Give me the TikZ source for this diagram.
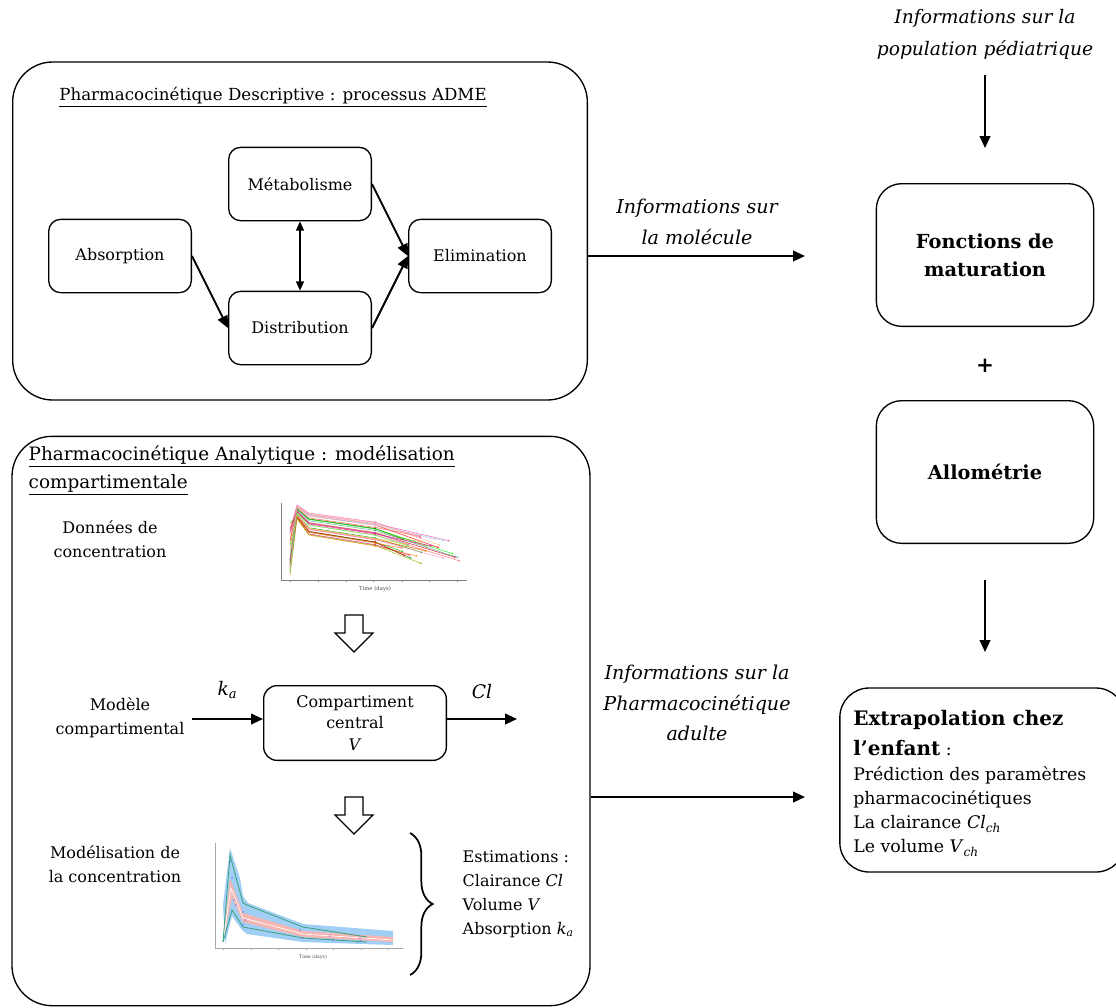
\documentclass[tikz,border=0pt]{standalone}
\usepackage{fontspec}
\setmainfont{DejaVu Serif}
\usetikzlibrary{positioning,arrows.meta,decorations.pathreplacing}
\definecolor{bandblue}{RGB}{160,206,245}
\definecolor{bandpink}{RGB}{245,182,178}
\definecolor{medgreen}{RGB}{60,160,120}
\newcommand{\bigbold}{\bfseries\fontsize{15}{18}\selectfont}
\newcommand{\mv}[2]{\textit{#1}\textsubscript{\textit{#2}}}
\tikzset{block/.style={draw, line width=1pt, rounded corners=9pt, align=center, minimum width=107pt, minimum height=55pt, font=\fontsize{12}{16}\selectfont},
bigbox/.style={draw, line width=1pt, rounded corners=30pt},
sidebox/.style={draw, line width=1pt, rounded corners=19pt, align=center, minimum width=163pt, minimum height=107pt, font=\bfseries\fontsize{14.5}{21}\selectfont},
line/.style={-{Triangle[length=9pt,width=8pt]}, line width=1.5pt},
dline/.style={{Triangle[length=7pt,width=6pt]}-{Triangle[length=7pt,width=6pt]}, line width=1.2pt},
txt/.style={align=center, font=\fontsize{12}{18}\selectfont},
info/.style={align=center, font=\itshape\fontsize{14.3}{23}\selectfont},
downarrow/.pic={\draw[line width=.9pt, fill=white] (-9,0) -- (9,0) -- (9,18) -- (19,18) -- (0,37) -- (-19,18) -- (-9,18) -- cycle;}
}

\begin{document}
\begin{tikzpicture}[x=0.75pt, y=-0.75pt, every node/.style={align=center}]
    \useasboundingbox (0,0) rectangle (1116,1007);
    % Descriptive part
    \node [bigbox, minimum width=431pt, minimum height=253.5pt] (descbox) at (300,231) {};
    \node [txt, font=\fontsize{12.5}{18}\selectfont] (desctitle) at (273,97) {\underline{Pharmacocinétique Descriptive : processus ADME}};
    \node [block] (absorption) at (120,256) {Absorption};
    \node [block] (metabolisme) at (300,184) {Métabolisme};
    \node [block] (distribution) at (300,328) {Distribution};
    \node [block] (elimination) at (480,256) {Elimination};
    % Arrows
    \draw [line] (absorption.east) -- (distribution.west);
    \draw [line] (distribution.east) -- (elimination.west);
    \draw [line] (metabolisme.east) -- (elimination.west);
    \draw [dline] (metabolisme.south) -- (distribution.north);

    % Analytic part
    \node [bigbox, minimum width=433.5pt, minimum height=427pt] (anabox) at (301,721) {};
    \node [anchor=north west, align=left, font=\fontsize{13.8}{21}\selectfont] (anatitle) at (24,441) {\underline{Pharmacocinétique Analytique : modélisation}\\\underline{compartimentale}};
    \node [txt] (donnees) at (110,539) {Données de\\concentration};
    \node [txt] (modele) at (120,718) {Modèle\\compartimental};
    \node [txt] (modelisation) at (115,864) {Modélisation de\\la concentration};
    \node [block, minimum width=137pt, minimum height=56pt, rounded corners=10pt] (compart) at (355,723) {Compartiment\\central\\\textit{V}};
    \coordinate (kain) at (192,719);
    \coordinate (clout) at (517,719);
    \draw [line] (kain) -- (kain -| compart.west) node [midway, above=11pt, font=\fontsize{14}{14}\selectfont] (ka) {\mv{k}{a}};
    \draw [line] (clout -| compart.east) -- (clout) node [midway, above=11pt, font=\fontsize{14}{14}\selectfont] (cl) {\textit{Cl}};
    \pic at (354,615) {downarrow};
    \pic at (354,797) {downarrow};

    % Data plot
    \draw [gray, line width=.4pt] (281,503) -- (281,580) -- (467,580);
    \foreach \t in {290,318,346,373,402,429,457} \draw [gray, line width=.3pt] (\t,580) -- (\t,582);
    \node [font=\fontsize{4}{4}\selectfont, gray!60!black] (tdays1) at (375,589) {Time (days)};
    \pgfmathsetseed{7}
    \foreach \c in {magenta,red,green!60!black,orange!70,pink,magenta!70,olive!80,red!60,green,orange,teal!70,magenta,yellow!70!orange,green!50!black,red!80!black,pink!80!magenta,orange!50,lime!70!black,magenta!60,green!70!black,red,orange!80!red,violet!60,cyan!40,magenta,green!60!black,orange!60,red!70,green!70,pink}
    {
      \pgfmathsetmacro\d{rnd}
      \pgfmathsetmacro\s{520+55*rnd}
      \pgfmathsetmacro\e{400+60*rnd}
      \pgfmathsetmacro\m{522+26*\d}
      \pgfmathsetmacro\f{\m+(\e-375)*0.25+10*rnd-3}
      \draw [\c, opacity=.7, line width=.5pt] (290,\s) -- (297,{505+15*\d}) -- (309,{513+24*\d}) -- (375,\m) -- (\e,\f);
      \fill [\c, opacity=.7] (375,\m) circle [radius=.8pt] (\e,\f) circle [radius=.8pt];
    }

    % Model plot
    \draw [gray!70, line width=.4pt] (215,843) -- (215,948) -- (403,948);
    \foreach \t in {223,251,278,306,333,361,388} \draw [gray!70, line width=.3pt] (\t,948) -- (\t,950);
    \node [font=\fontsize{3.5}{4}\selectfont, gray!60!black] (tdays2) at (313,957) {Time (days)};
    \fill [bandblue] (223,905) -- (230,848) -- (240,878) -- (243,896) -- (248,903) -- (303,924) -- (393,931) -- (393,945) -- (303,942) -- (247,934) -- (242,930) -- (232,916) -- (225,944) -- cycle;
    \fill [bandpink] (230,878) -- (243,913) -- (303,931) -- (393,937) -- (393,942) -- (303,937) -- (243,922) -- (232,898) -- (223,942) -- cycle;
    \draw [white, line width=.5pt] (223,942) -- (231,888) -- (243,918) -- (303,934) -- (393,940);
    \draw [medgreen, line width=.6pt] (223,942) -- (230,855) -- (243,903) -- (247,905) -- (303,927) -- (367,937);
    \draw [medgreen, line width=.6pt] (223,942) -- (232,910) -- (243,927) -- (303,938) -- (367,942);
    \foreach \px/\py in {230/862, 232/878, 234/900, 236/905, 243/912, 245/920, 243/925, 300/930, 303/938, 330/936, 333/940, 360/938, 361/941}
      \fill [blue!70, opacity=.6] (\px,\py) circle [radius=.6pt];

    % Estimations
    \node [txt, align=left, anchor=west] (estim) at (458,894) {Estimations :\\Clairance \textit{Cl}\\Volume \textit{V}\\Absorption \mv{k}{a}};
    \draw [decorate, decoration={brace, amplitude=17pt}, line width=1.3pt] (410,833) -- (410,975);

    % Pediatric part
    \node [info, font=\itshape\fontsize{14}{24}\selectfont] (infopop) at (985,34) {Informations sur la\\population pédiatrique};
    \node [sidebox] (fonctions) at (985,255) {Fonctions de\\maturation};
    \node [font=\bfseries\fontsize{16}{16}\selectfont] (plus) at (985,366) {+};
    \node [sidebox] (allometrie) at (985,472) {Allométrie};
    \node [draw, line width=1pt, rounded corners=22pt, minimum width=214pt, minimum height=138pt] (extrapbox) at (982.5,780) {};
    \node [anchor=north west, align=left, inner sep=0pt, font=\fontsize{13}{18}\selectfont] (extrap) at (853,710) {{\bigbold Extrapolation chez}\\[4.5pt]{\bigbold l’enfant} :\\[1pt]Prédiction des paramètres\\pharmacocinétiques\\La clairance \mv{Cl}{ch}\\Le volume \mv{V}{ch}};
    \coordinate (poptop) at (985,75);
    \coordinate (allobot) at (985,580);
    \coordinate (extraptop) at (985,652);
    \draw [line] (poptop) -- (fonctions.north |- 0,148);
    \draw [line] (allobot) -- (extraptop);

    % Information arrows
    \coordinate (molend) at (805,256);
    \coordinate (adultend) at (805,797);
    \draw [line] (descbox.east |- molend) -- (molend);
    \node [info] (infomol) at (697,222) {Informations sur\\la molécule};
    \draw [line] (anabox.east |- adultend) -- (adultend);
    \node [info] (infoadult) at (697,703) {Informations sur la\\Pharmacocinétique\\adulte};
\end{tikzpicture}
\end{document}
